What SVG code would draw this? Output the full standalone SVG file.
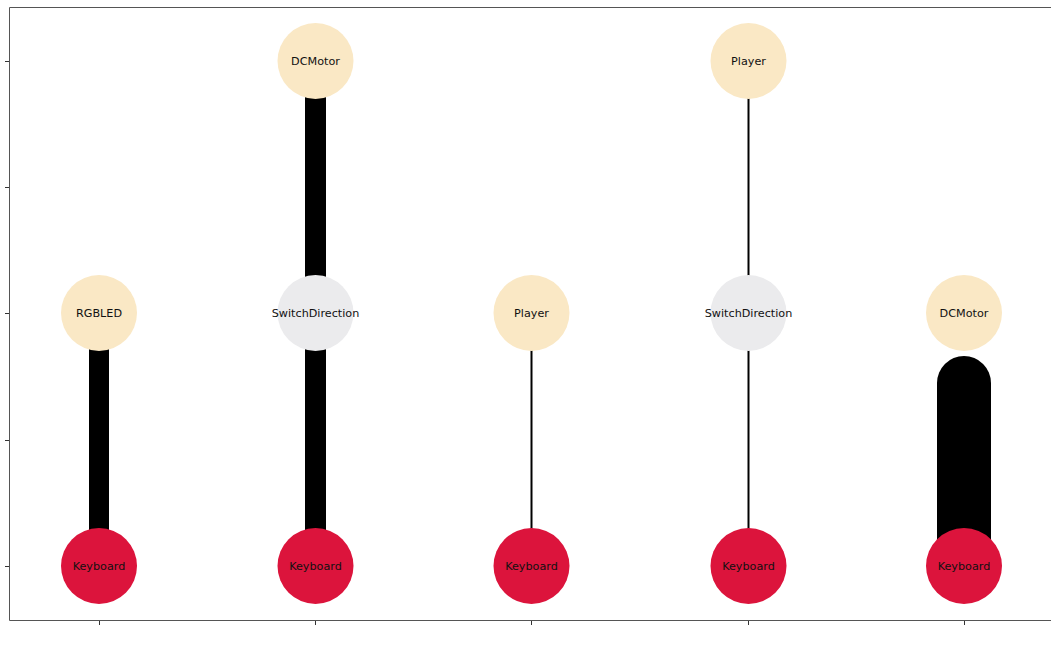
<svg xmlns="http://www.w3.org/2000/svg" width="1051" height="657" viewBox="0 0 1051 657">
<style>
.ax{stroke:#555;stroke-width:1;fill:none}
.tk{stroke:#333;stroke-width:1}
.e{stroke:#000;fill:none}
.lbl{font-family:"DejaVu Sans",sans-serif;font-size:11.2px;fill:#111;text-anchor:middle;dominant-baseline:central}
.beige{fill:#fae8c5}
.gray{fill:#ebebed}
.red{fill:#dc143c}
</style>
<rect width="1051" height="657" fill="#fff"/>
<g id="axes">
<path class="ax" d="M9.5,7.5 H1060 M9.5,7.5 V620.5 H1060"/>
<g class="tk">
<line x1="5" y1="61.5" x2="9" y2="61.5"/>
<line x1="5" y1="187.5" x2="9" y2="187.5"/>
<line x1="5" y1="313.5" x2="9" y2="313.5"/>
<line x1="5" y1="440.5" x2="9" y2="440.5"/>
<line x1="5" y1="566.5" x2="9" y2="566.5"/>
<line x1="99.5" y1="621" x2="99.5" y2="625"/>
<line x1="315.5" y1="621" x2="315.5" y2="625"/>
<line x1="531.5" y1="621" x2="531.5" y2="625"/>
<line x1="748.5" y1="621" x2="748.5" y2="625"/>
<line x1="964.5" y1="621" x2="964.5" y2="625"/>
</g>
</g>
<g id="connectors">
<line class="e" x1="99" y1="313" x2="99" y2="566" stroke-width="20"/>
<line class="e" x1="315.5" y1="61" x2="315.5" y2="313" stroke-width="21"/>
<line class="e" x1="315.5" y1="313" x2="315.5" y2="566" stroke-width="21"/>
<line class="e" x1="531.5" y1="313" x2="531.5" y2="566" stroke-width="2"/>
<line class="e" x1="748.5" y1="61" x2="748.5" y2="313" stroke-width="2"/>
<line class="e" x1="748.5" y1="313" x2="748.5" y2="566" stroke-width="2"/>
<line class="e" x1="964" y1="383" x2="964" y2="566" stroke-width="54" stroke-linecap="round"/>
</g>
<g id="n-dcmotor1"><circle class="beige" cx="315.5" cy="61" r="38"/><text class="lbl" x="315.5" y="61">DCMotor</text></g>
<g id="n-player1"><circle class="beige" cx="748.5" cy="61" r="38"/><text class="lbl" x="748.5" y="61">Player</text></g>
<g id="n-rgbled"><circle class="beige" cx="99" cy="313" r="38"/><text class="lbl" x="99" y="313">RGBLED</text></g>
<g id="n-switch1"><circle class="gray" cx="315.5" cy="313" r="38"/><text class="lbl" x="315.5" y="313">SwitchDirection</text></g>
<g id="n-player2"><circle class="beige" cx="531.5" cy="313" r="38"/><text class="lbl" x="531.5" y="313">Player</text></g>
<g id="n-switch2"><circle class="gray" cx="748.5" cy="313" r="38"/><text class="lbl" x="748.5" y="313">SwitchDirection</text></g>
<g id="n-dcmotor2"><circle class="beige" cx="964" cy="313" r="38"/><text class="lbl" x="964" y="313">DCMotor</text></g>
<g id="n-kb1"><circle class="red" cx="99" cy="566" r="38"/><text class="lbl" x="99" y="566">Keyboard</text></g>
<g id="n-kb2"><circle class="red" cx="315.5" cy="566" r="38"/><text class="lbl" x="315.5" y="566">Keyboard</text></g>
<g id="n-kb3"><circle class="red" cx="531.5" cy="566" r="38"/><text class="lbl" x="531.5" y="566">Keyboard</text></g>
<g id="n-kb4"><circle class="red" cx="748.5" cy="566" r="38"/><text class="lbl" x="748.5" y="566">Keyboard</text></g>
<g id="n-kb5"><circle class="red" cx="964" cy="566" r="38"/><text class="lbl" x="964" y="566">Keyboard</text></g>
</svg>
